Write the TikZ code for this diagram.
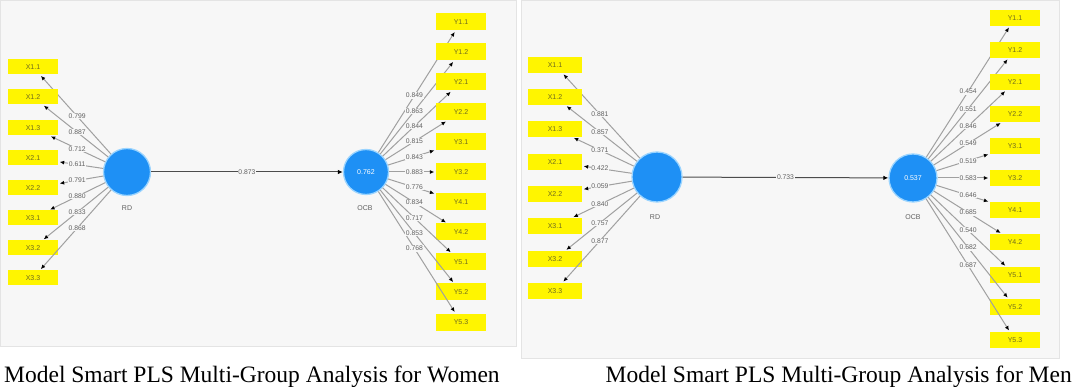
\documentclass[tikz,border=0pt]{standalone}
\usepackage{fontspec}
\setmainfont{Liberation Serif}
\newfontfamily\dsans{Liberation Sans}
\usetikzlibrary{arrows.meta,calc}
\definecolor{panelbg}{HTML}{F7F7F7}
\definecolor{panelln}{HTML}{E4E4E4}
\definecolor{indyel}{HTML}{FFF500}
\definecolor{indtxt}{HTML}{6E6A20}
\definecolor{lvblue}{HTML}{1E90F5}
\definecolor{lvhalo}{HTML}{9AD4FF}
\definecolor{ldline}{HTML}{A0A0A0}
\definecolor{labtxt}{HTML}{606060}
\tikzset{
  ind/.style={rectangle, fill=indyel, minimum width=50pt, minimum height=16pt, inner sep=0pt,
    font=\dsans\fontsize{7}{8}\selectfont, text=indtxt},
  lv/.style={circle, fill=lvblue, draw=lvhalo, line width=1.3pt, minimum size=#1, inner sep=0pt,
    font=\dsans\fontsize{7}{8}\selectfont, text=white},
  ld/.style={draw=ldline, line width=1pt, -{Latex[length=4.5pt,width=4pt,color=black]}, shorten >=1.5pt},
  strarr/.style={draw=black!70, line width=1pt, -{Latex[length=5pt,width=4.5pt,color=black]}},
  lab/.style={fill=panelbg, inner sep=0.6pt, font=\dsans\fontsize{6.8}{8}\selectfont, text=labtxt},
  lvname/.style={font=\dsans\fontsize{7}{8}\selectfont, text=labtxt},
  capt/.style={font=\fontsize{23.5}{26}\selectfont, text=black, inner sep=0pt}
}
\begin{document}
\begin{tikzpicture}[x=1pt,y=-1pt]
\useasboundingbox (0,0) rectangle (1076,387);
\fill[white] (0,0) rectangle (1076,387);
% panels
\filldraw[fill=panelbg, draw=panelln] (0.5,0.5) rectangle (516,346);
\filldraw[fill=panelbg, draw=panelln] (521,0.5) rectangle (1059,358);

% ---------- Women ----------
\node[lv=47pt] (LRD) at (127,172) {};
\node[lv=45pt] (LOCB) at (366,172) {0.762};
\node[lvname] (LRDn) at (127,208) {RD};
\node[lvname] (LOCBn) at (365,208) {OCB};
\draw[strarr] (LRD) -- (LOCB) node[lab, pos=0.5] (LP) {0.873};

\foreach \nm/\yy/\vv [count=\i] in {X1.1/67/0.799, X1.2/97/0.887, X1.3/128/0.712, X2.1/158/0.611,
   X2.2/188/0.791, X3.1/218/0.880, X3.2/248/0.833, X3.3/278/0.868}{
  \node[ind, minimum height=15pt] (LX\i) at (33,\yy) {\nm};
  \draw[ld] (LRD) -- (LX\i);
}
\foreach \nm/\yy/\vv [count=\i] in {X1.1/67/0.799, X1.2/97/0.887, X1.3/128/0.712, X2.1/158/0.611,
   X2.2/188/0.791, X3.1/218/0.880, X3.2/248/0.833, X3.3/278/0.868}{
  \node[lab] (LXl\i) at ($(LRD)!0.53!(LX\i)$) {\vv};
}
\foreach \nm/\yy/\vv [count=\i] in {Y1.1/22/0.849, Y1.2/52/0.863, Y2.1/82/0.844, Y2.2/112/0.815,
   Y3.1/142/0.843, Y3.2/172/0.883, Y4.1/202/0.776, Y4.2/232/0.834, Y5.1/262/0.717,
   Y5.2/292/0.853, Y5.3/322/0.768}{
  \node[ind, minimum height=17pt] (LY\i) at (461,\yy) {\nm};
  \draw[ld] (LOCB) -- (LY\i);
}
\foreach \nm/\yy/\vv [count=\i] in {Y1.1/22/0.849, Y1.2/52/0.863, Y2.1/82/0.844, Y2.2/112/0.815,
   Y3.1/142/0.843, Y3.2/172/0.883, Y4.1/202/0.776, Y4.2/232/0.834, Y5.1/262/0.717,
   Y5.2/292/0.853, Y5.3/322/0.768}{
  \node[lab] (LYl\i) at ($(LOCB)!0.51!(LY\i)$) {\vv};
}

% ---------- Men ----------
\node[lv=50pt] (RRD) at (657,177) {};
\node[lv=48pt] (ROCB) at (913,178) {0.537};
\node[lvname] (RRDn) at (655,217) {RD};
\node[lvname] (ROCBn) at (913,217) {OCB};
\draw[strarr] (RRD) -- (ROCB) node[lab, pos=0.5] (RP) {0.733};

\foreach \nm/\yy/\vv [count=\i] in {X1.1/65/0.881, X1.2/97/0.857, X1.3/129/0.371, X2.1/162/0.422,
   X2.2/194/0.059, X3.1/226/0.840, X3.2/259/0.757, X3.3/291/0.877}{
  \node[ind, minimum width=54pt] (RX\i) at (555,\yy) {\nm};
  \draw[ld] (RRD) -- (RX\i);
}
\foreach \nm/\yy/\vv [count=\i] in {X1.1/65/0.881, X1.2/97/0.857, X1.3/129/0.371, X2.1/162/0.422,
   X2.2/194/0.059, X3.1/226/0.840, X3.2/259/0.757, X3.3/291/0.877}{
  \node[lab] (RXl\i) at ($(RRD)!0.56!(RX\i)$) {\vv};
}
\foreach \nm/\yy/\vv [count=\i] in {Y1.1/18/0.454, Y1.2/50/0.551, Y2.1/82/0.846, Y2.2/114/0.549,
   Y3.1/146/0.519, Y3.2/178/0.583, Y4.1/210/0.646, Y4.2/242/0.685, Y5.1/275/0.540,
   Y5.2/307/0.682, Y5.3/340/0.687}{
  \node[ind] (RY\i) at (1015,\yy) {\nm};
  \draw[ld] (ROCB) -- (RY\i);
}
\foreach \nm/\yy/\vv [count=\i] in {Y1.1/18/0.454, Y1.2/50/0.551, Y2.1/82/0.846, Y2.2/114/0.549,
   Y3.1/146/0.519, Y3.2/178/0.583, Y4.1/210/0.646, Y4.2/242/0.685, Y5.1/275/0.540,
   Y5.2/307/0.682, Y5.3/340/0.687}{
  \node[lab] (RYl\i) at ($(ROCB)!0.54!(RY\i)$) {\vv};
}

% captions
\node[capt, anchor=base west] (capW) at (4,382) {Model Smart PLS Multi-Group Analysis for Women};
\node[capt, anchor=base east] (capM) at (1072,382) {Model Smart PLS Multi-Group Analysis for Men};
\end{tikzpicture}
\end{document}
